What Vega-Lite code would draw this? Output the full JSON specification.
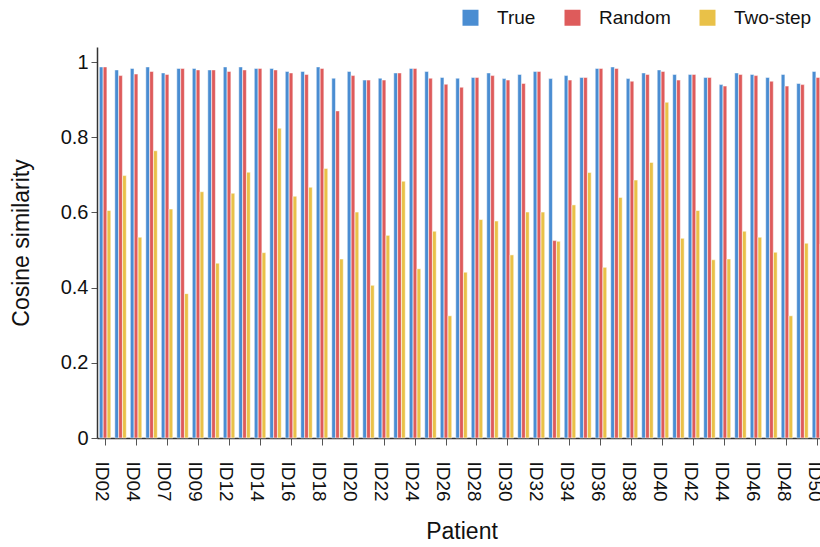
{
  "$schema": "https://vega.github.io/schema/vega-lite/v6.json",
  "width": 723,
  "height": 391,
  "autosize": {"type": "none"},
  "padding": {"left": 97, "top": 47, "right": 0, "bottom": 109},
  "background": "white",
  "config": {
    "font": "Liberation Sans",
    "view": {"stroke": null},
    "axis": {
      "grid": false,
      "domainColor": "#333333",
      "domainWidth": 1.5,
      "tickColor": "#555555",
      "labelColor": "#111111",
      "titleColor": "#111111",
      "titleFontWeight": "normal",
      "titleFontSize": 23
    }
  },
  "data": {
    "values": [
      {"patient": "ID02", "True": 0.987, "Random": 0.987, "Two-step": 0.605},
      {"patient": "ID03", "True": 0.979, "Random": 0.964, "Two-step": 0.698},
      {"patient": "ID04", "True": 0.983, "Random": 0.968, "Two-step": 0.534},
      {"patient": "ID05", "True": 0.987, "Random": 0.975, "Two-step": 0.764},
      {"patient": "ID07", "True": 0.971, "Random": 0.967, "Two-step": 0.609},
      {"patient": "ID08", "True": 0.983, "Random": 0.983, "Two-step": 0.384},
      {"patient": "ID09", "True": 0.983, "Random": 0.979, "Two-step": 0.655},
      {"patient": "ID10", "True": 0.979, "Random": 0.979, "Two-step": 0.465},
      {"patient": "ID12", "True": 0.987, "Random": 0.975, "Two-step": 0.651},
      {"patient": "ID13", "True": 0.987, "Random": 0.979, "Two-step": 0.707},
      {"patient": "ID14", "True": 0.983, "Random": 0.983, "Two-step": 0.493},
      {"patient": "ID15", "True": 0.983, "Random": 0.979, "Two-step": 0.824},
      {"patient": "ID16", "True": 0.975, "Random": 0.971, "Two-step": 0.643},
      {"patient": "ID17", "True": 0.975, "Random": 0.967, "Two-step": 0.667},
      {"patient": "ID18", "True": 0.987, "Random": 0.983, "Two-step": 0.717},
      {"patient": "ID19", "True": 0.957, "Random": 0.870, "Two-step": 0.476},
      {"patient": "ID20", "True": 0.975, "Random": 0.964, "Two-step": 0.601},
      {"patient": "ID21", "True": 0.952, "Random": 0.952, "Two-step": 0.406},
      {"patient": "ID22", "True": 0.957, "Random": 0.952, "Two-step": 0.539},
      {"patient": "ID23", "True": 0.971, "Random": 0.971, "Two-step": 0.683},
      {"patient": "ID24", "True": 0.983, "Random": 0.983, "Two-step": 0.450},
      {"patient": "ID25", "True": 0.975, "Random": 0.957, "Two-step": 0.550},
      {"patient": "ID26", "True": 0.959, "Random": 0.941, "Two-step": 0.325},
      {"patient": "ID27", "True": 0.957, "Random": 0.933, "Two-step": 0.441},
      {"patient": "ID28", "True": 0.959, "Random": 0.959, "Two-step": 0.581},
      {"patient": "ID29", "True": 0.971, "Random": 0.964, "Two-step": 0.577},
      {"patient": "ID30", "True": 0.956, "Random": 0.952, "Two-step": 0.487},
      {"patient": "ID31", "True": 0.967, "Random": 0.943, "Two-step": 0.601},
      {"patient": "ID32", "True": 0.975, "Random": 0.975, "Two-step": 0.601},
      {"patient": "ID33", "True": 0.956, "Random": 0.525, "Two-step": 0.523},
      {"patient": "ID34", "True": 0.964, "Random": 0.952, "Two-step": 0.620},
      {"patient": "ID35", "True": 0.959, "Random": 0.959, "Two-step": 0.706},
      {"patient": "ID36", "True": 0.983, "Random": 0.983, "Two-step": 0.454},
      {"patient": "ID37", "True": 0.987, "Random": 0.983, "Two-step": 0.640},
      {"patient": "ID38", "True": 0.956, "Random": 0.949, "Two-step": 0.686},
      {"patient": "ID39", "True": 0.971, "Random": 0.967, "Two-step": 0.733},
      {"patient": "ID40", "True": 0.979, "Random": 0.975, "Two-step": 0.893},
      {"patient": "ID41", "True": 0.967, "Random": 0.952, "Two-step": 0.531},
      {"patient": "ID42", "True": 0.967, "Random": 0.967, "Two-step": 0.605},
      {"patient": "ID43", "True": 0.959, "Random": 0.959, "Two-step": 0.474},
      {"patient": "ID44", "True": 0.940, "Random": 0.936, "Two-step": 0.476},
      {"patient": "ID45", "True": 0.971, "Random": 0.967, "Two-step": 0.550},
      {"patient": "ID46", "True": 0.967, "Random": 0.964, "Two-step": 0.534},
      {"patient": "ID47", "True": 0.959, "Random": 0.949, "Two-step": 0.494},
      {"patient": "ID48", "True": 0.967, "Random": 0.936, "Two-step": 0.325},
      {"patient": "ID49", "True": 0.943, "Random": 0.940, "Two-step": 0.518},
      {"patient": "ID50", "True": 0.975, "Random": 0.959, "Two-step": 0.516}
    ]
  },
  "transform": [
    {"fold": ["True", "Random", "Two-step"], "as": ["method", "similarity"]}
  ],
  "mark": {"type": "bar", "stroke": "white", "strokeWidth": 0.5},
  "encoding": {
    "x": {
      "field": "patient",
      "type": "nominal",
      "sort": null,
      "scale": {"paddingInner": 0.26, "paddingOuter": 0.15, "range": [0, 729]},
      "axis": {
        "title": "Patient",
        "values": ["ID02", "ID04", "ID07", "ID09", "ID12", "ID14", "ID16", "ID18", "ID20", "ID22", "ID24", "ID26", "ID28", "ID30", "ID32", "ID34", "ID36", "ID38", "ID40", "ID42", "ID44", "ID46", "ID48", "ID50"],
        "labelAngle": 90,
        "labelAlign": "left",
        "labelBaseline": "middle",
        "labelFontSize": 19,
        "labelPadding": 16,
        "labelOffset": -3,
        "tickSize": 7,
        "titlePadding": 19
      }
    },
    "xOffset": {
      "field": "method",
      "type": "nominal",
      "sort": ["True", "Random", "Two-step"],
      "scale": {"paddingInner": 0.05}
    },
    "y": {
      "field": "similarity",
      "type": "quantitative",
      "scale": {"domain": [0, 1.04], "nice": false},
      "axis": {
        "title": "Cosine similarity",
        "values": [0, 0.2, 0.4, 0.6, 0.8, 1],
        "format": "~g",
        "labelFontSize": 20,
        "labelPadding": 3,
        "tickSize": 6,
        "titlePadding": 27
      }
    },
    "color": {
      "field": "method",
      "type": "nominal",
      "sort": ["True", "Random", "Two-step"],
      "scale": {"domain": ["True", "Random", "Two-step"], "range": ["#4a8dd2", "#de5b5b", "#e9c148"]},
      "legend": {
        "title": null,
        "orient": "none",
        "legendX": 364,
        "legendY": -39,
        "direction": "horizontal",
        "symbolType": "square",
        "symbolSize": 256,
        "symbolStrokeWidth": 0,
        "labelFontSize": 19,
        "labelColor": "#111111",
        "labelOffset": 17,
        "columnPadding": 27
      }
    }
  }
}
